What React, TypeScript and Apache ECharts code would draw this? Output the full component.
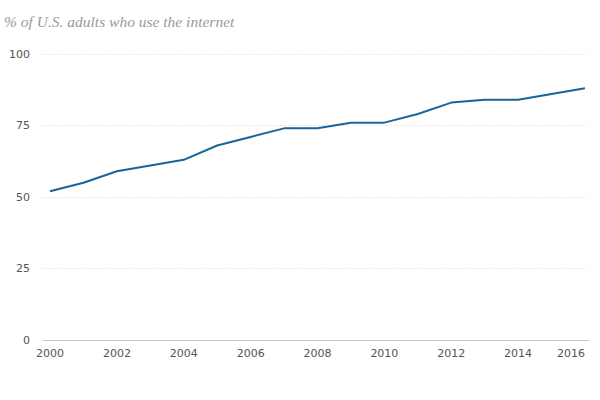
import React, { useEffect, useRef } from "react";
import * as echarts from "echarts";

const years = [2000, 2001, 2002, 2003, 2004, 2005, 2006, 2007, 2008, 2009, 2010, 2011, 2012, 2013, 2014, 2015, 2016];
const internetUse = [52, 55, 59, 61, 63, 68, 71, 74, 74, 76, 76, 79, 83, 84, 84, 86, 88];
const yearLabels = [2000, 2002, 2004, 2006, 2008, 2010, 2012, 2014, 2016];
const title = "% of U.S. adults who use the internet";

export default function App() {
  const ref = useRef<HTMLDivElement>(null);

  useEffect(() => {
    if (!ref.current) return;
    const chart = echarts.init(ref.current, null, { renderer: "svg" });
    chart.setOption({
      animation: false,
      backgroundColor: "#ffffff",
      title: {
        text: title,
        left: -1,
        top: 8,
        textStyle: {
          fontFamily: "Liberation Serif",
          fontStyle: "italic",
          fontWeight: "normal",
          fontSize: 15.5,
          color: "#9a9a9a",
        },
      },
      grid: { left: 43, right: 11, top: 54, bottom: 60 },
      xAxis: {
        type: "value",
        min: 1999.79,
        max: 2016.12,
        axisLine: { show: true, lineStyle: { color: "#c8c8cc", width: 1 } },
        axisTick: { show: false },
        splitLine: { show: false },
        axisLabel: {
          customValues: yearLabels,
          formatter: (v: number) => String(v),
          alignMaxLabel: "right",
          margin: 8,
          fontFamily: "DejaVu Sans",
          fontSize: 11,
          color: "#555555",
        },
      },
      yAxis: {
        type: "value",
        min: 0,
        max: 100,
        interval: 25,
        axisLine: { show: false },
        axisTick: { show: false },
        splitLine: {
          show: true,
          lineStyle: { color: "#d8d8d8", type: [1, 2], width: 1 },
        },
        axisLabel: {
          margin: 13,
          fontFamily: "DejaVu Sans",
          fontSize: 11,
          color: "#555555",
        },
      },
      series: [
        {
          type: "line",
          data: years.map((y, i) => [y, internetUse[i]]),
          symbol: "none",
          lineStyle: { color: "#19659a", width: 2 },
        },
      ],
    });
    return () => chart.dispose();
  }, []);

  return <div ref={ref} style={{ width: 600, height: 400, position: "absolute", left: 0, top: 0 }} />;
}
